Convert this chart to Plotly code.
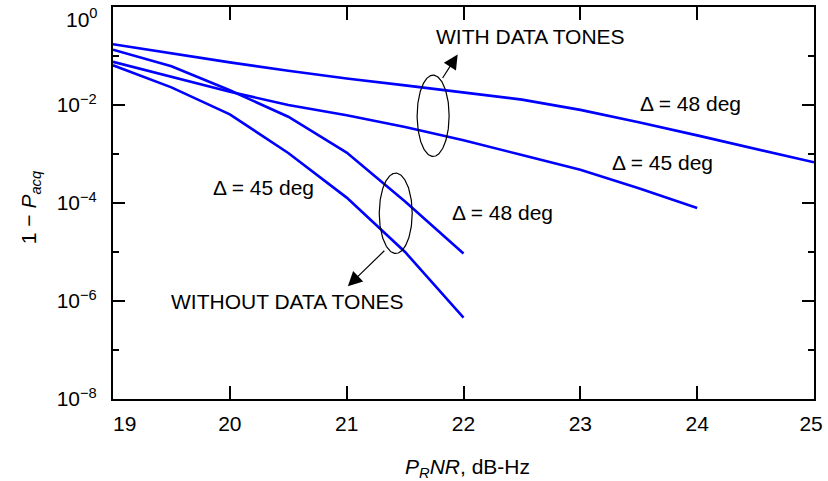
import numpy as np
import plotly.graph_objects as go

# PRNR grid (dB-Hz)
x_with = [19, 19.5, 20, 20.5, 21, 21.5, 22, 22.5, 23, 23.5, 24, 24.5, 25]
x_with45 = [19, 19.5, 20, 20.5, 21, 21.5, 22, 22.5, 23, 23.5, 24]
x_without = [19, 19.5, 20, 20.5, 21, 21.5, 22]

# 1 - P_acq, given as log10 values
log_with48 = [-0.76, -0.95, -1.13, -1.30, -1.46, -1.60, -1.74, -1.89, -2.10, -2.35, -2.62, -2.90, -3.17]
log_with45 = [-1.12, -1.43, -1.73, -2.00, -2.21, -2.45, -2.72, -3.02, -3.32, -3.70, -4.10]
log_without48 = [-0.87, -1.21, -1.70, -2.24, -2.97, -3.97, -5.03]
log_without45 = [-1.19, -1.64, -2.19, -2.98, -3.89, -5.00, -6.34]

y_tickvals = [1, 1e-2, 1e-4, 1e-6, 1e-8]
# the top label is drawn separately, nudged down so it stays inside the page
y_ticktext = ["", "10<sup>\u22122</sup>", "10<sup>\u22124</sup>",
              "10<sup>\u22126</sup>", "10<sup>\u22128</sup>"]
y_top_label = "10<sup>0</sup>"
y_minorvals = [1e-1, 1e-3, 1e-5, 1e-7]
x_tickvals = [19, 20, 21, 22, 23, 24, 25]
x_ticktext = ["\u00a0\u00a0\u00a0\u00a019", "20", "21", "22", "23", "24", "25\u00a0"]

FONT = "Liberation Sans, Arial, Helvetica, sans-serif"
BLUE = "#0000ff"

fig = go.Figure()

for xs, ls in [(x_with, log_with48), (x_with45, log_with45),
               (x_without, log_without48), (x_without, log_without45)]:
    fig.add_trace(go.Scatter(x=xs, y=[10 ** v for v in ls], mode="lines",
                             line=dict(color=BLUE, width=2.6), hoverinfo="skip"))

# grouping ellipses (centre x, centre log10 y, half-width in x, half-height in decades)
t = np.linspace(0, 2 * np.pi, 200)
for cx, cly, rx, ry in [(21.74, -2.22, 0.137, 0.83), (21.42, -4.21, 0.141, 0.82)]:
    fig.add_trace(go.Scatter(x=cx + rx * np.cos(t), y=10 ** (cly + ry * np.sin(t)),
                             mode="lines", line=dict(color="black", width=1.2),
                             hoverinfo="skip"))

annotations = []
labels = [
    ("WITH DATA TONES", 22.57, -0.61),
    ("\u0394 = 48 deg", 23.94, -1.96),
    ("\u0394 = 45 deg", 23.70, -3.18),
    ("\u0394 = 45 deg", 20.29, -3.69),
    ("\u0394 = 48 deg", 22.33, -4.20),
    ("WITHOUT DATA TONES", 20.49, -6.01),
]
for txt, xx, yy in labels:
    annotations.append(dict(text=txt, x=xx, y=yy, xref="x", yref="y", showarrow=False,
                            font=dict(family=FONT, size=21, color="black"),
                            xanchor="center", yanchor="middle"))

# arrows from the ellipses to their captions
for xx, yy, ax, ay in [(21.95, -0.97, -16, 25), (21.01, -5.70, 38, -37)]:
    annotations.append(dict(text="", x=xx, y=yy, xref="x", yref="y", ax=ax, ay=ay,
                            showarrow=True, arrowhead=2, arrowsize=2.4, arrowwidth=1.2,
                            arrowcolor="black"))

# top y tick label
annotations.append(dict(text=y_top_label, x=-0.0185, y=0.972, xref="paper", yref="paper",
                        showarrow=False, xanchor="right", yanchor="middle",
                        font=dict(family=FONT, size=21, color="black")))

# axis titles
annotations.append(dict(text="<i>P<sub>R</sub>NR</i>, dB-Hz", x=0.505, y=-0.175,
                        xref="paper", yref="paper", showarrow=False,
                        font=dict(family=FONT, size=21, color="black"),
                        xanchor="center", yanchor="middle"))
annotations.append(dict(text="1 \u2212 <i>P<sub>acq</sub></i>", x=-0.118, y=0.49,
                        xref="paper", yref="paper", showarrow=False, textangle=-90,
                        font=dict(family=FONT, size=21, color="black"),
                        xanchor="center", yanchor="middle"))

fig.update_layout(
    width=828, height=481,
    margin=dict(l=113, r=14, t=7, b=82),
    paper_bgcolor="white", plot_bgcolor="white",
    showlegend=False,
    font=dict(family=FONT, size=21, color="black"),
    annotations=annotations,
)

fig.update_xaxes(
    range=[19, 25], tickmode="array", tickvals=x_tickvals, ticktext=x_ticktext,
    ticks="inside", ticklen=13, tickwidth=1.5, tickcolor="black",
    showline=True, linecolor="black", linewidth=2, mirror="ticks",
    showgrid=False, zeroline=False, ticklabelstandoff=5,
    ticklabeloverflow="allow", automargin=False,
    tickfont=dict(family=FONT, size=21, color="black"),
)
fig.update_yaxes(
    type="log", range=[-8, 0], tickmode="array", tickvals=y_tickvals, ticktext=y_ticktext,
    ticks="inside", ticklen=12, tickwidth=1.5, tickcolor="black",
    showline=True, linecolor="black", linewidth=2, mirror="ticks",
    showgrid=False, zeroline=False, ticklabelstandoff=10, automargin=False,
    tickfont=dict(family=FONT, size=21, color="black"),
    minor=dict(tickmode="array", tickvals=y_minorvals, ticks="inside", ticklen=6,
               tickwidth=1.5, tickcolor="black", showgrid=False),
)

fig.write_html("out.html")
